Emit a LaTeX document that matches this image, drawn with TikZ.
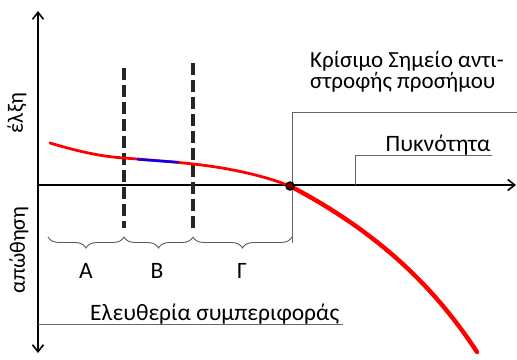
\documentclass[tikz,border=0pt]{standalone}
\usepackage{fontspec}
\setmainfont{Carlito}
\usetikzlibrary{decorations.pathreplacing,arrows.meta}
\tikzset{
  axis/.style={line width=2pt,black,-{Straight Barb[length=7pt,width=11pt,line width=1.6pt]}},
  guide/.style={gray!80!black,line width=0.7pt},
  divider/.style={black!85,line width=3.2pt,dash pattern=on 12pt off 5pt},
  curly/.style={gray!70!black,line width=0.9pt,decorate,decoration={brace,mirror,amplitude=11pt}},
  lbl/.style={inner sep=0pt,font=\fontsize{23.5}{24}\selectfont},
  curve/.style={red,line cap=round,line width=3.4pt},
}
\begin{document}
\begin{tikzpicture}[x=1pt,y=-1pt]
\useasboundingbox (0,0) rectangle (517,359);
% coordinates
\coordinate (o) at (38,185);
\coordinate (ytop) at (38,11);
\coordinate (ybot) at (38,353);
\coordinate (xend) at (516,185);
\coordinate (d1t) at (124,68);
\coordinate (d1b) at (124,228);
\coordinate (d2t) at (193,63);
\coordinate (d2b) at (193,228);
\coordinate (b0) at (48,237);
\coordinate (b1) at (124,237);
\coordinate (b2) at (193,237);
\coordinate (b3) at (292,237);
\coordinate (g1) at (292,243);
\coordinate (g2) at (292,112);
\coordinate (g3) at (517,112);
\coordinate (p1) at (355,185);
\coordinate (p2) at (355,155);
\coordinate (p3) at (492,155);
\coordinate (f1) at (38,324);
\coordinate (f2) at (343,324);
% axes
\draw[axis] (o) -- (ytop);
\draw[axis] (o) -- (ybot);
\draw[axis] (o) -- (xend);
% dashed dividers
\draw[divider] (d1t) -- (d1b);
\draw[divider] (d2t) -- (d2b);
% braces
\draw[curly] (b0) -- (b1);
\draw[curly] (b1) -- (b2);
\draw[curly] (b2) -- (b3);
% guide lines
\draw[guide] (g1) -- (g2) -- (g3);
\draw[guide] (p1) -- (p2) -- (p3);
\draw[guide] (f1) -- (f2);
% red curve
\draw[curve,line width=2.8pt] (50,143) .. controls (90,155) and (110,157) .. (124,158)
  .. controls (150,160) and (175,162) .. (193,164)
  .. controls (230,168) and (265,176) .. (290,186);
\draw[curve,line width=4.4pt] (290,186) .. controls (370,228) and (430,280) .. (477,352);
\draw[blue,line width=2.4pt,line cap=round] (138,159.4) .. controls (155,160.6) and (165,161.3) .. (178,162.2);
% critical point
\node[circle,draw=black,fill=red!45!black,line width=1.4pt,minimum size=8pt,inner sep=0pt] (cp) at (290,186) {};
% labels
\node[lbl,rotate=90,font=\fontsize{22}{22}\selectfont] (attr) at (17,113) {έλξη};
\node[lbl,rotate=90,font=\fontsize{22}{22}\selectfont] (rep) at (19,250) {απώθηση};
\node[lbl,align=left,font=\fontsize{23}{21}\selectfont] (crit) at (407,72) {Κρίσιμο Σημείο αντι-\\στροφής προσήμου};
\node[lbl,anchor=base] (dens) at (438,151) {Πυκνότητα};
\node[lbl,anchor=base west] (free) at (90,320) {Ελευθερία συμπεριφοράς};
\node[lbl,anchor=base] (A) at (86,278) {Α};
\node[lbl,anchor=base] (B) at (157,278) {Β};
\node[lbl,anchor=base] (G) at (242,278) {Γ};
\end{tikzpicture}
\end{document}
